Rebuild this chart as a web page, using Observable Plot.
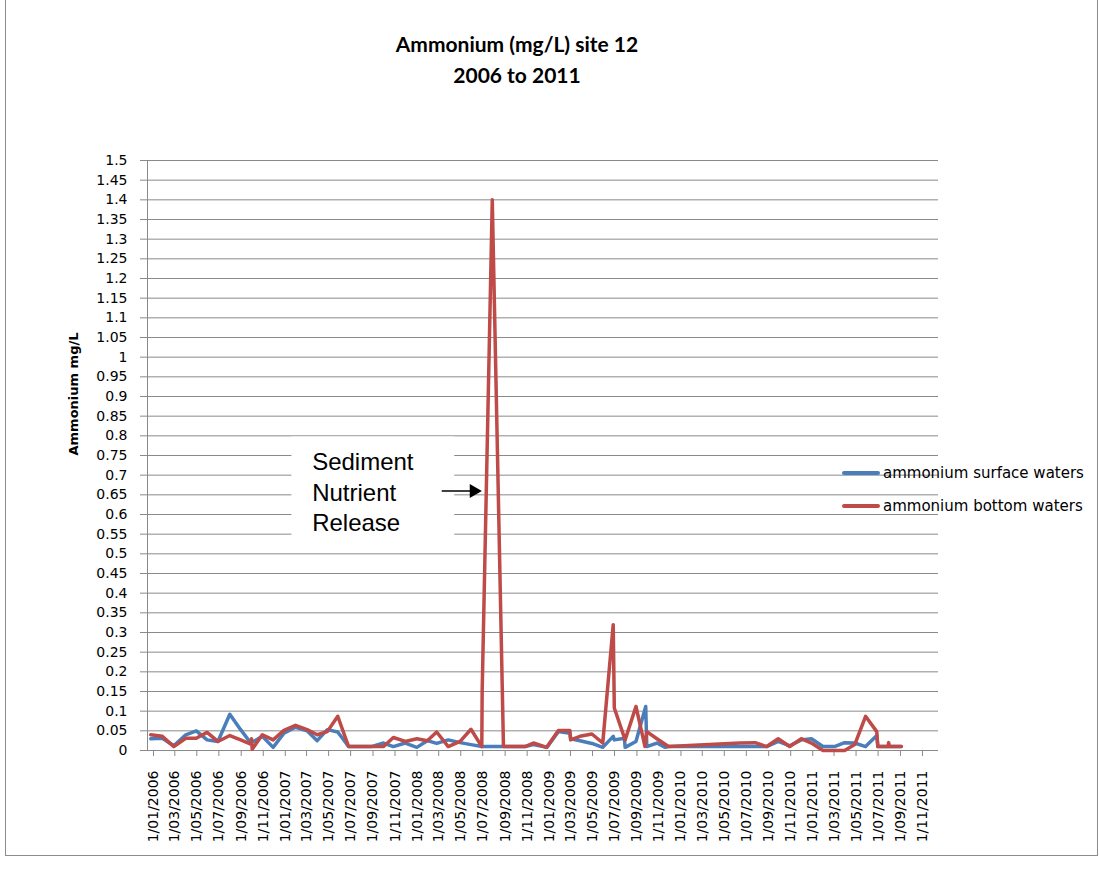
<!DOCTYPE html>
<html><head><meta charset="utf-8">
<script src="https://cdn.jsdelivr.net/npm/d3@7"></script>
<script src="https://cdn.jsdelivr.net/npm/@observablehq/plot@0.6"></script>
<style>
body{margin:0;background:#fff;}
#wrap{position:relative;width:1099px;height:882px;overflow:hidden;font-family:"DejaVu Sans",sans-serif;background:#fff;}
#border{position:absolute;left:5px;top:-1px;width:1091px;height:855px;border:1px solid #8c8c8c;pointer-events:none;}
#title{position:absolute;left:0;width:1034px;top:28px;text-align:center;font-family:Lato,sans-serif;font-weight:bold;font-size:21px;line-height:31px;color:#000;}
#chart{position:absolute;left:0;top:150px;}
.item{position:absolute;left:842px;height:20px;display:flex;align-items:center;font-size:15px;color:#000;}
.item span.sw{display:inline-block;width:38px;height:4px;margin-right:3px;border-radius:2px;}
</style></head>
<body>
<div id="wrap">
  <div id="title">Ammonium (mg/L) site 12<br>2006 to 2011</div>
  <div id="chart"></div>
  <div class="item" style="top:463px"><span class="sw" style="background:#4A7EBB"></span>ammonium surface waters</div>
  <div class="item" style="top:496px"><span class="sw" style="background:#BE4B48"></span>ammonium bottom waters</div>
  <div id="border"></div>
</div>
<script>
const xTickLabels = ["1/01/2006","1/03/2006","1/05/2006","1/07/2006","1/09/2006","1/11/2006",
  "1/01/2007","1/03/2007","1/05/2007","1/07/2007","1/09/2007","1/11/2007",
  "1/01/2008","1/03/2008","1/05/2008","1/07/2008","1/09/2008","1/11/2008",
  "1/01/2009","1/03/2009","1/05/2009","1/07/2009","1/09/2009","1/11/2009",
  "1/01/2010","1/03/2010","1/05/2010","1/07/2010","1/09/2010","1/11/2010",
  "1/01/2011","1/03/2011","1/05/2011","1/07/2011","1/09/2011","1/11/2011"];
const yTicks = [0,0.05,0.1,0.15,0.2,0.25,0.3,0.35,0.4,0.45,0.5,0.55,0.6,0.65,0.7,0.75,0.8,0.85,0.9,0.95,1,1.05,1.1,1.15,1.2,1.25,1.3,1.35,1.4,1.45,1.5];

const surfaceDates = ["2006-01-10","2006-02-11","2006-03-15","2006-04-17","2006-05-16","2006-06-15","2006-07-15","2006-08-17","2006-09-16","2006-10-14","2006-11-15","2006-12-15",
  "2007-01-14","2007-02-15","2007-03-19","2007-04-16","2007-05-14","2007-06-12","2007-07-12","2007-08-13","2007-09-13","2007-10-17","2007-11-13","2007-12-16",
  "2008-01-17","2008-02-15","2008-03-12","2008-04-13","2008-05-16","2008-06-15","2008-07-15","2008-08-13","2008-09-13","2008-10-14","2008-11-12","2008-12-05",
  "2009-01-11","2009-02-12","2009-03-16","2009-03-18","2009-04-13","2009-05-16","2009-06-15","2009-07-14","2009-07-17","2009-08-14","2009-08-16","2009-09-15","2009-10-12","2009-10-15","2009-11-12","2009-12-05","2009-12-14",
  "2010-06-30","2010-08-11","2010-09-12","2010-10-14","2010-11-15","2010-12-17",
  "2011-01-14","2011-02-15","2011-03-19","2011-04-16","2011-05-14","2011-06-13","2011-07-14","2011-07-17","2011-09-20"];
const surfaceValues = [0.03,0.031,0.012,0.04,0.05,0.027,0.023,0.092,0.053,0.019,0.036,0.008,
  0.044,0.059,0.05,0.025,0.053,0.047,0.01,0.01,0.01,0.019,0.01,0.019,
  0.008,0.025,0.018,0.027,0.02,0.015,0.01,0.01,0.01,0.01,0.01,0.015,
  0.008,0.048,0.044,0.03,0.025,0.018,0.008,0.036,0.027,0.031,0.008,0.023,0.112,0.01,0.019,0.008,0.01,
  0.01,0.01,0.01,0.023,0.012,0.027,
  0.03,0.01,0.01,0.02,0.019,0.01,0.038,0.01,0.01];

const bottomDates = ["2006-01-10","2006-02-11","2006-03-15","2006-04-17","2006-05-16","2006-06-15","2006-07-15","2006-08-17","2006-09-16","2006-10-14","2006-10-16","2006-10-18","2006-11-15","2006-12-15",
  "2007-01-14","2007-02-15","2007-03-19","2007-04-16","2007-05-14","2007-06-12","2007-07-12","2007-08-13","2007-09-13","2007-10-17","2007-11-13","2007-12-16",
  "2008-01-17","2008-02-15","2008-03-12","2008-04-13","2008-05-16","2008-06-15","2008-07-15","2008-07-16","2008-08-13","2008-09-13","2008-10-14","2008-11-12","2008-12-05",
  "2009-01-11","2009-02-12","2009-03-16","2009-03-18","2009-04-13","2009-05-16","2009-06-15","2009-07-14","2009-07-17","2009-08-16","2009-09-15","2009-10-10","2009-10-15","2009-11-12","2009-12-14",
  "2010-06-30","2010-08-11","2010-09-12","2010-10-14","2010-11-15","2010-12-17",
  "2011-01-14","2011-02-15","2011-03-19","2011-04-16","2011-05-14","2011-06-13","2011-07-14","2011-07-17","2011-08-14","2011-08-16","2011-08-18","2011-09-20"];
const bottomValues = [0.04,0.036,0.01,0.031,0.031,0.046,0.023,0.038,0.027,0.016,0.03,0.003,0.04,0.027,
  0.051,0.064,0.053,0.04,0.048,0.087,0.01,0.01,0.01,0.01,0.033,0.023,
  0.03,0.025,0.047,0.01,0.023,0.054,0.01,0.15,1.4,0.01,0.01,0.01,0.019,
  0.008,0.051,0.051,0.027,0.036,0.042,0.019,0.32,0.108,0.027,0.112,0.01,0.048,0.03,0.01,
  0.019,0.02,0.01,0.03,0.01,0.03,
  0.019,0.0,0.0,0.0,0.015,0.087,0.048,0.01,0.01,0.02,0.01,0.01];

const annotText = "Sediment\nNutrient\nRelease";

const parse = d3.utcParse("%Y-%m-%d");
const parseTick = d3.utcParse("%d/%m/%Y");
const surface = surfaceDates.map((d, i) => ({date: parse(d), value: surfaceValues[i]}));
const bottom = bottomDates.map((d, i) => ({date: parse(d), value: bottomValues[i]}));
const xTicks = xTickLabels.map(parseTick);
const fmtX = d => `${d.getUTCDate()}/${String(d.getUTCMonth() + 1).padStart(2, "0")}/${d.getUTCFullYear()}`;
const fmtY = d => String(+d.toFixed(2));

const box = [{x1: parse("2007-02-05"), x2: parse("2008-05-01"), y1: 0.505, y2: 0.797}];
const label = [{x: parse("2007-04-02"), y: 0.66, text: annotText}];
const arrow = [{x1: parse("2008-03-26"), x2: parse("2008-07-08"), tip: parse("2008-07-15"), y: 0.66}];

const grid = "#8a8a8a";
const chart = Plot.plot({
  width: 1099, height: 700,
  marginLeft: 147, marginRight: 161, marginTop: 10, marginBottom: 100,
  x: {type: "utc", domain: [parse("2006-01-01"), parse("2012-01-01")], label: null},
  y: {domain: [0, 1.5], label: null},
  style: {fontFamily: "DejaVu Sans", fontSize: "14px", color: "#000", background: "transparent"},
  marks: [
    Plot.gridY(yTicks, {stroke: grid, strokeOpacity: 1, strokeWidth: 1}),
    Plot.ruleX([parse("2006-01-01")], {stroke: grid, strokeWidth: 1}),
    Plot.axisY(yTicks, {tickSize: 7, tickPadding: 13, tickFormat: fmtY, stroke: grid, fill: "#000", fontSize: 14, label: null}),
    Plot.axisX(xTicks, {tickSize: 6, tickPadding: 14, tickRotate: -90, tickFormat: fmtX, stroke: grid, fill: "#000", fontSize: 14, dx: 6, label: null, style: "letter-spacing:0.7px"}),
    Plot.rect(box, {x1: "x1", x2: "x2", y1: "y1", y2: "y2", fill: "white"}),
    Plot.text(label, {x: "x", y: "y", text: "text", textAnchor: "start", lineAnchor: "middle", lineHeight: 1.27, fontSize: 24, fontFamily: "Liberation Sans", fill: "#000"}),
    Plot.link(arrow, {x1: "x1", x2: "x2", y1: "y", y2: "y", stroke: "#000", strokeWidth: 1.5}),
    Plot.dot(arrow, {x: "tip", y: "y", symbol: "triangle", r: 5.2, rotate: 90, fill: "#000", stroke: "none", dx: -8}),
    Plot.lineY(surface, {x: "date", y: "value", stroke: "#4A7EBB", strokeWidth: 3.5, strokeLinejoin: "round"}),
    Plot.lineY(bottom, {x: "date", y: "value", stroke: "#BE4B48", strokeWidth: 3.5, strokeLinejoin: "round"}),
    Plot.text([0], {frameAnchor: "left", dx: -74, rotate: -90, text: () => "Ammonium mg/L", fontWeight: "bold", fontSize: 13, fill: "#000"})
  ]
});
document.getElementById("chart").appendChild(chart);
</script>
</body></html>
